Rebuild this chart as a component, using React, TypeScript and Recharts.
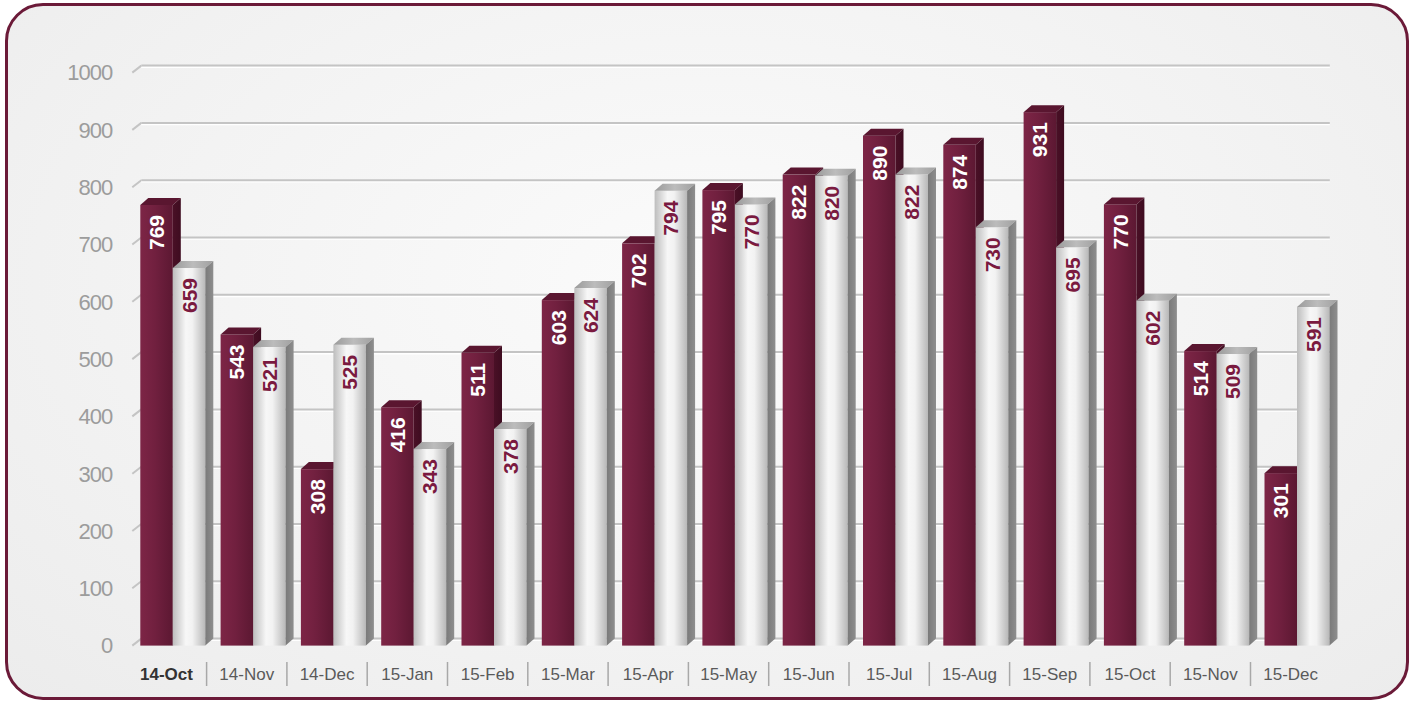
import React from 'react';
import { BarChart, Bar, XAxis, YAxis, CartesianGrid, LabelList } from 'recharts';

// monthly values
const months = ['14-Oct', '14-Nov', '14-Dec', '15-Jan', '15-Feb', '15-Mar', '15-Apr', '15-May', '15-Jun', '15-Jul', '15-Aug', '15-Sep', '15-Oct', '15-Nov', '15-Dec'];
const seriesA = [769, 543, 308, 416, 511, 603, 702, 795, 822, 890, 874, 931, 770, 514, 301];
const seriesB = [659, 521, 525, 343, 378, 624, 794, 770, 820, 822, 730, 695, 602, 509, 591];
const yTicks = [0, 100, 200, 300, 400, 500, 600, 700, 800, 900, 1000];

const data = months.map((m, i) => ({ month: m, a: seriesA[i], b: seriesB[i] }));

const W = 1414;
const H = 701;
const MARGIN = { top: 72.6, right: 77.2, bottom: 15.4, left: 32.3 };
const Y_AXIS_W = 100;
const X_AXIS_H = 40;
const PLOT_W = W - MARGIN.left - MARGIN.right - Y_AXIS_W;
const BAND = PLOT_W / months.length;
const DX = 8;
const DY = 7;
const SHIFT = 6;

const makeBar3D = (front: string, top: string, side: string) => (props: any) => {
  const { x, y, width, height } = props;
  if (!height || height <= 0) return null;
  const r = x + width;
  return (
    <g>
      <rect x={x} y={y} width={width} height={height} fill={front} />
      <polygon points={`${x},${y} ${x + DX},${y - DY} ${r + DX},${y - DY} ${r},${y}`} fill={top} />
      <polygon points={`${r},${y} ${r + DX},${y - DY} ${r + DX},${y + height - DY} ${r},${y + height}`} fill={side} />
    </g>
  );
};

const MaroonBar = makeBar3D('url(#maroonFront)', '#5a1630', 'url(#maroonSide)');
const SilverBar = makeBar3D('url(#silverFront)', 'url(#silverTop)', 'url(#silverSide)');

const makeLabel = (color: string) => (props: any) => {
  const { x, y, width, value } = props;
  const cx = x + width / 2;
  const ty = y + 10;
  return (
    <text
      x={cx}
      y={ty}
      transform={`rotate(-90 ${cx} ${ty})`}
      textAnchor="end"
      dominantBaseline="central"
      fill={color}
      fontSize={21}
      fontWeight="bold"
      fontFamily="'Liberation Sans', Arial, sans-serif"
    >
      {value}
    </text>
  );
};

const CategoryTick = (props: any) => {
  const { x, payload, index } = props;
  const cx = x - SHIFT;
  const first = index === 0;
  return (
    <g>
      {index > 0 && (
        <line x1={cx - BAND / 2} y1={662} x2={cx - BAND / 2} y2={686} stroke="#a8a8a8" strokeWidth={1.5} />
      )}
      <text
        x={cx}
        y={674}
        textAnchor="middle"
        dominantBaseline="central"
        fontSize={17}
        fontWeight={first ? 'bold' : 'normal'}
        fill={first ? '#333' : '#5a5a5a'}
        fontFamily="'Liberation Sans', Arial, sans-serif"
      >
        {payload.value}
      </text>
    </g>
  );
};

const GridLine = (p: any) => {
  const { x1, y1, x2 } = p;
  return (
    <g key={p.key}>
      <line x1={x1} y1={y1} x2={x1 + 9} y2={y1 - DY} stroke="#c4c4c4" strokeWidth={2} />
      <line x1={x1 + 9} y1={y1 - DY + 1.6} x2={x2 - 7} y2={y1 - DY + 1.6} stroke="#ffffff" strokeWidth={1.5} />
      <line x1={x1 + 9} y1={y1 - DY} x2={x2 - 7} y2={y1 - DY} stroke="#c4c4c4" strokeWidth={2} />
    </g>
  );
};

const App: React.FC = () => {
  return (
    <div style={{ position: 'absolute', left: 0, top: 0, width: W, height: H, background: '#ffffff', overflow: 'hidden' }}>
      <div
        style={{
          position: 'absolute',
          left: 5,
          top: 3,
          width: 1404,
          height: 697,
          boxSizing: 'border-box',
          border: '3px solid #6b1a38',
          borderRadius: 38,
          background: 'radial-gradient(ellipse at 50% 40%, #fbfbfb 0%, #f3f3f3 55%, #ececec 100%)',
        }}
      />
      <div style={{ position: 'absolute', left: 0, top: 0 }}>
        <BarChart width={W} height={H} data={data} margin={MARGIN} barGap={0} barSize={32.5}>
          <defs>
            <linearGradient id="maroonFront" x1="0" y1="0" x2="1" y2="0">
              <stop offset="0%" stopColor="#7d2546" />
              <stop offset="45%" stopColor="#71203f" />
              <stop offset="100%" stopColor="#5c1832" />
            </linearGradient>
            <linearGradient id="maroonSide" x1="0" y1="0" x2="1" y2="0">
              <stop offset="0%" stopColor="#4a1026" />
              <stop offset="100%" stopColor="#3e0c20" />
            </linearGradient>
            <linearGradient id="silverFront" x1="0" y1="0" x2="1" y2="0">
              <stop offset="0%" stopColor="#bdbdbd" />
              <stop offset="40%" stopColor="#f7f7f7" />
              <stop offset="60%" stopColor="#f2f2f2" />
              <stop offset="100%" stopColor="#b8b8b8" />
            </linearGradient>
            <linearGradient id="silverSide" x1="0" y1="0" x2="1" y2="0">
              <stop offset="0%" stopColor="#7a7a7a" />
              <stop offset="100%" stopColor="#8e8e8e" />
            </linearGradient>
            <linearGradient id="silverTop" x1="0" y1="0" x2="1" y2="0">
              <stop offset="0%" stopColor="#9a9a9a" />
              <stop offset="50%" stopColor="#bcbcbc" />
              <stop offset="100%" stopColor="#a0a0a0" />
            </linearGradient>
          </defs>
          <CartesianGrid vertical={false} horizontal={GridLine} />
          <XAxis
            dataKey="month"
            axisLine={false}
            tickLine={false}
            height={X_AXIS_H}
            interval={0}
            tick={CategoryTick}
          />
          <YAxis
            domain={[0, 1000]}
            ticks={yTicks}
            width={Y_AXIS_W}
            axisLine={false}
            tickLine={false}
            tickMargin={14}
            tick={{ fill: '#9c9c9c', fontSize: 22, fontFamily: "'Liberation Sans', Arial, sans-serif", letterSpacing: -1 }}
          />
          <Bar dataKey="a" shape={MaroonBar} isAnimationActive={false}>
            <LabelList dataKey="a" content={makeLabel('#ffffff')} />
          </Bar>
          <Bar dataKey="b" shape={SilverBar} isAnimationActive={false}>
            <LabelList dataKey="b" content={makeLabel('#7a1a40')} />
          </Bar>
        </BarChart>
      </div>
    </div>
  );
};

export default App;
